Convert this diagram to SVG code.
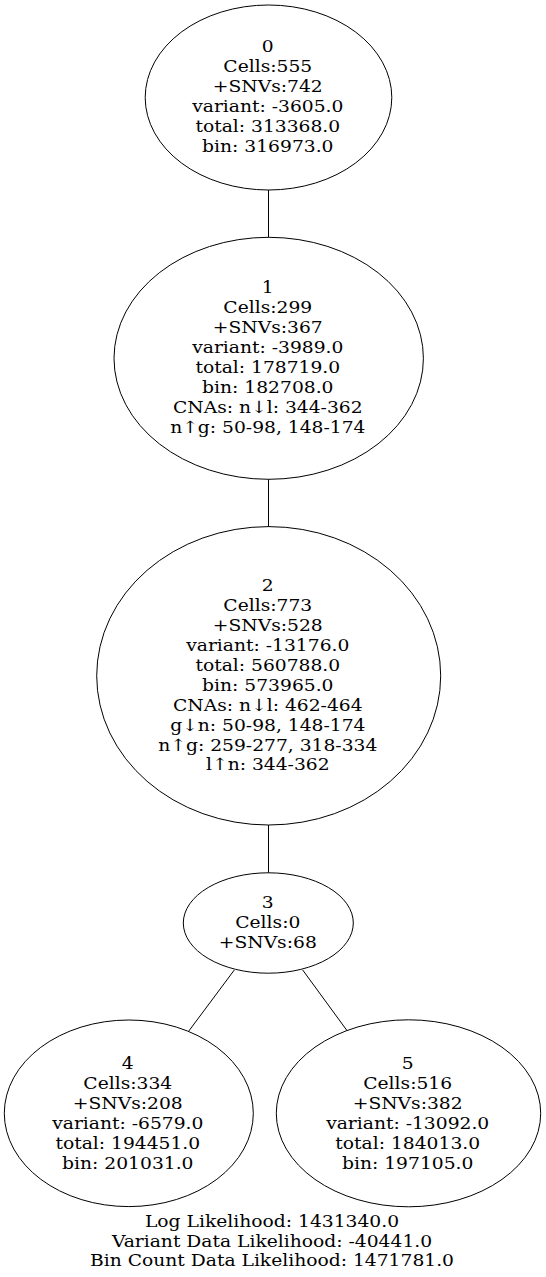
<svg xmlns="http://www.w3.org/2000/svg" width="546" height="1277" viewBox="0 0 546 1277">
<style>
.n ellipse{fill:none;stroke:#000;stroke-width:1}
.e line{stroke:#000;stroke-width:1}
text{font-family:"DejaVu Serif",serif;font-size:17px;text-anchor:middle;fill:#000}
</style>
<rect width="546" height="1277" fill="#fff"/>
<g id="edges" class="e">
<line x1="268.5" y1="190" x2="268.5" y2="237.3"/>
<line x1="268.5" y1="479.3" x2="268.5" y2="526.7"/>
<line x1="268.5" y1="825" x2="268.5" y2="872.7"/>
<line x1="234.3" y1="970" x2="188.3" y2="1031.7"/>
<line x1="302.7" y1="970" x2="347.3" y2="1031"/>
</g>
<g id="node0" class="n">
<ellipse cx="268.5" cy="97.5" rx="123.3" ry="92.5"/>
<g transform="translate(267.8 0) scale(1.1 1)">
<text x="0" y="52.3">0</text>
<text x="0" y="72.2">Cells:555</text>
<text x="0" y="92.1">+SNVs:742</text>
<text x="0" y="112">variant: -3605.0</text>
<text x="0" y="131.9">total: 313368.0</text>
<text x="0" y="151.8">bin: 316973.0</text>
</g>
</g>
<g id="node1" class="n">
<ellipse cx="268.7" cy="358.3" rx="154.7" ry="121"/>
<g transform="translate(267.8 0) scale(1.1 1)">
<text x="0" y="293.3">1</text>
<text x="0" y="313.2">Cells:299</text>
<text x="0" y="333.1">+SNVs:367</text>
<text x="0" y="353">variant: -3989.0</text>
<text x="0" y="372.9">total: 178719.0</text>
<text x="0" y="392.8">bin: 182708.0</text>
<text x="0" y="412.7">CNAs: n↓l: 344-362</text>
<text x="0" y="432.6">n↑g: 50-98, 148-174</text>
</g>
</g>
<g id="node2" class="n">
<ellipse cx="268.7" cy="675.8" rx="172" ry="149.2"/>
<g transform="translate(267.8 0) scale(1.1 1)">
<text x="0" y="591.4">2</text>
<text x="0" y="611.3">Cells:773</text>
<text x="0" y="631.2">+SNVs:528</text>
<text x="0" y="651.1">variant: -13176.0</text>
<text x="0" y="671">total: 560788.0</text>
<text x="0" y="690.9">bin: 573965.0</text>
<text x="0" y="710.8">CNAs: n↓l: 462-464</text>
<text x="0" y="730.7">g↓n: 50-98, 148-174</text>
<text x="0" y="750.6">n↑g: 259-277, 318-334</text>
<text x="0" y="770.5">l↑n: 344-362</text>
</g>
</g>
<g id="node3" class="n">
<ellipse cx="268.3" cy="923" rx="85" ry="50.2"/>
<g transform="translate(267.8 0) scale(1.1 1)">
<text x="0" y="908.3">3</text>
<text x="0" y="928.2">Cells:0</text>
<text x="0" y="948.1">+SNVs:68</text>
</g>
</g>
<g id="node4" class="n">
<ellipse cx="128.8" cy="1113.3" rx="124.5" ry="93.3"/>
<g transform="translate(127.8 0) scale(1.1 1)">
<text x="0" y="1069.3">4</text>
<text x="0" y="1089.2">Cells:334</text>
<text x="0" y="1109.1">+SNVs:208</text>
<text x="0" y="1129">variant: -6579.0</text>
<text x="0" y="1148.9">total: 194451.0</text>
<text x="0" y="1168.8">bin: 201031.0</text>
</g>
</g>
<g id="node5" class="n">
<ellipse cx="408.5" cy="1113.3" rx="132.2" ry="93.5"/>
<g transform="translate(407.7 0) scale(1.1 1)">
<text x="0" y="1069.3">5</text>
<text x="0" y="1089.2">Cells:516</text>
<text x="0" y="1109.1">+SNVs:382</text>
<text x="0" y="1129">variant: -13092.0</text>
<text x="0" y="1148.9">total: 184013.0</text>
<text x="0" y="1168.8">bin: 197105.0</text>
</g>
</g>
<g id="label" transform="translate(272 0) scale(1.1 1)">
<text x="0" y="1226.7">Log Likelihood: 1431340.0</text>
<text x="0" y="1246.6">Variant Data Likelihood: -40441.0</text>
<text x="0" y="1266.5">Bin Count Data Likelihood: 1471781.0</text>
</g>
</svg>
